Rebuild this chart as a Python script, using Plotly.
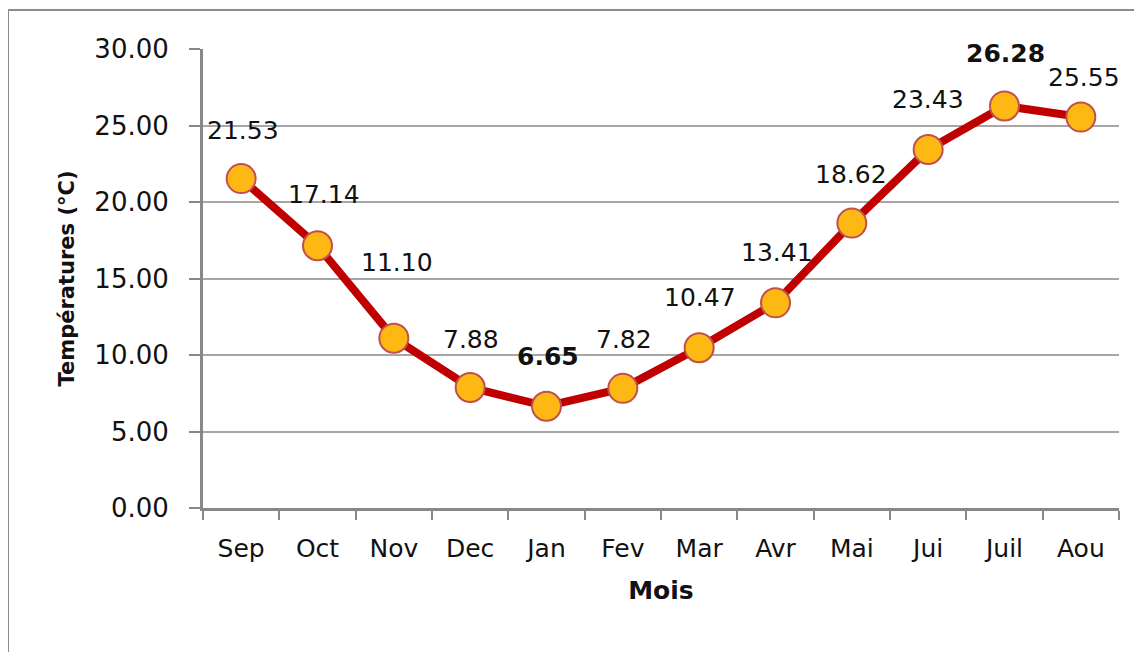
import plotly.graph_objects as go

mois = ["Sep", "Oct", "Nov", "Dec", "Jan", "Fev", "Mar", "Avr", "Mai", "Jui", "Juil", "Aou"]
temperatures = [21.53, 17.14, 11.10, 7.88, 6.65, 7.82, 10.47, 13.41, 18.62, 23.43, 26.28, 25.55]
y_ticks = [0, 5, 10, 15, 20, 25, 30]

# label placement (style only)
label_yshift = [48, 51, 76, 48, 50, 49, 50, 50, 49, 50, 52, 40]
label_xshift = [2, 6, 3, 1, 1, 1, 1, 1, -1, 0, 1, 3]
bold_labels = {"Jan", "Juil"}

FONT = "DejaVu Sans"

fig = go.Figure()
fig.add_trace(go.Scatter(
    x=mois, y=temperatures, mode="lines+markers",
    line=dict(color="#C00000", width=8),
    marker=dict(size=29, color="#FDB813", line=dict(color="#C0504D", width=2)),
    showlegend=False, hoverinfo="x+y",
))

annotations = []
for m, v, ys, xs in zip(mois, temperatures, label_yshift, label_xshift):
    txt = f"{v:.2f}"
    if m in bold_labels:
        txt = f"<b>{txt}</b>"
    annotations.append(dict(
        x=m, y=v, xref="x", yref="y", text=txt, showarrow=False,
        yshift=ys, xshift=xs, xanchor="center", yanchor="middle",
        font=dict(family=FONT, size=25, color="#111111"),
    ))

fig.update_layout(
    width=1142, height=652,
    margin=dict(l=195, r=31, t=41, b=152),
    paper_bgcolor="white", plot_bgcolor="white",
    annotations=annotations,
    shapes=[dict(type="rect", xref="paper", yref="paper",
                 x0=-0.2129, x1=1.06, y0=-0.4, y1=1.085,
                 line=dict(color="#8C8C8C", width=2), layer="below")],
    xaxis=dict(
        type="category", categoryorder="array", categoryarray=mois,
        range=[-0.5, 11.5], tickson="boundaries", ticks="outside",
        ticklen=9, tickwidth=2, tickcolor="#888888",
        ticklabelstandoff=16,
        showline=True, linecolor="#888888", linewidth=3,
        showgrid=False,
        tickfont=dict(family=FONT, size=25, color="#111111"),
        title=dict(text="<b>Mois</b>", font=dict(family=FONT, size=25, color="#111111"), standoff=20),
    ),
    yaxis=dict(
        range=[0, 30], tickvals=y_ticks, tickformat=".2f",
        ticks="outside", ticklen=11, tickwidth=2, tickcolor="#888888",
        ticklabelstandoff=15,
        showline=True, linecolor="#888888", linewidth=3,
        showgrid=True, gridcolor="#A6A6A6", gridwidth=1.5,
        zeroline=False,
        tickfont=dict(family=FONT, size=26, color="#111111"),
        title=dict(text="<b>Températures (°C)</b>", font=dict(family=FONT, size=21, color="#111111"), standoff=15),
    ),
)

fig.write_html("out.html")
